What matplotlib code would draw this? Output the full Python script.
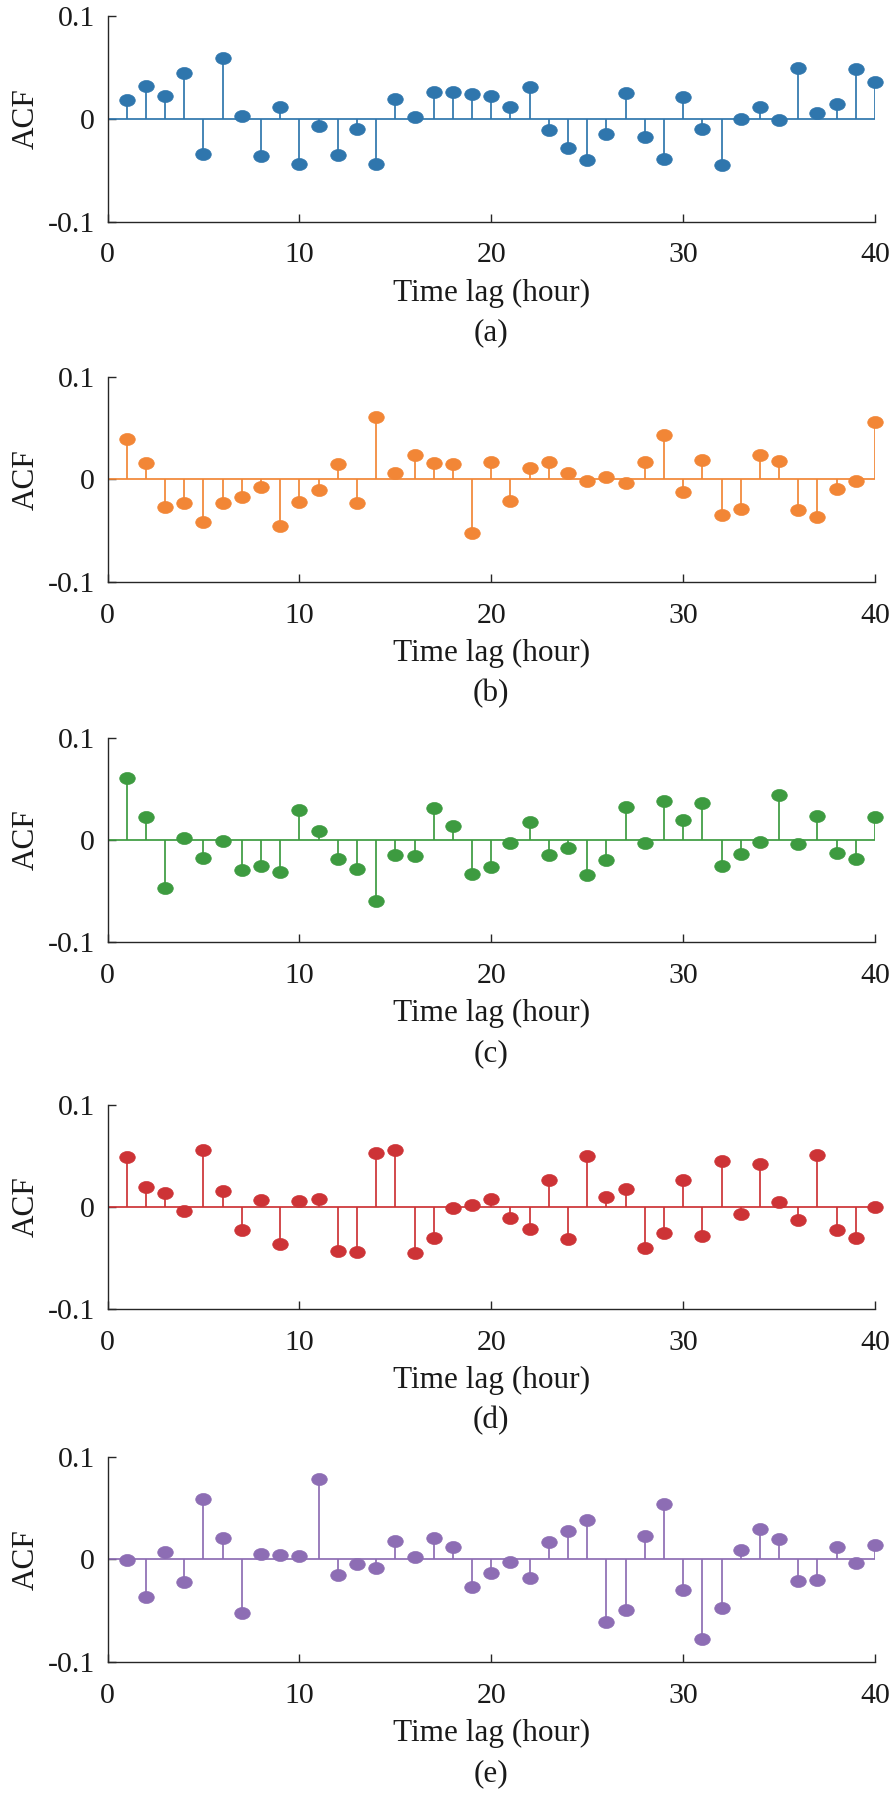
import matplotlib
matplotlib.use('Agg')
import matplotlib.pyplot as plt
import numpy as np
from matplotlib.path import Path

plt.rcParams['font.family'] = ['Liberation Serif', 'DejaVu Serif']

lags = list(range(1, 41))
acf_a = [0.018, 0.032, 0.022, 0.045, -0.034, 0.059, 0.003, -0.036, 0.011, -0.044,
         -0.007, -0.035, -0.010, -0.044, 0.019, 0.002, 0.026, 0.026, 0.024, 0.022,
         0.011, 0.031, -0.011, -0.028, -0.040, -0.015, 0.025, -0.018, -0.039, 0.021,
         -0.010, -0.045, 0.000, 0.011, -0.001, 0.049, 0.006, 0.014, 0.048, 0.036]
acf_b = [0.039, 0.016, -0.027, -0.023, -0.042, -0.023, -0.017, -0.007, -0.046, -0.022,
         -0.010, 0.015, -0.023, 0.061, 0.006, 0.024, 0.016, 0.015, -0.052, 0.017,
         -0.021, 0.011, 0.017, 0.006, -0.002, 0.002, -0.004, 0.017, 0.043, -0.012,
         0.019, -0.035, -0.029, 0.024, 0.018, -0.030, -0.037, -0.009, -0.002, 0.056]
acf_c = [0.061, 0.022, -0.047, 0.002, -0.018, -0.001, -0.029, -0.025, -0.031, 0.029,
         0.009, -0.019, -0.028, -0.060, -0.015, -0.016, 0.031, 0.014, -0.033, -0.026,
         -0.003, 0.018, -0.015, -0.008, -0.034, -0.020, 0.032, -0.003, 0.038, 0.020,
         0.036, -0.025, -0.014, -0.002, 0.044, -0.004, 0.023, -0.013, -0.019, 0.022]
acf_d = [0.049, 0.020, 0.014, -0.004, 0.056, 0.016, -0.023, 0.007, -0.036, 0.006,
         0.008, -0.043, -0.044, 0.053, 0.056, -0.045, -0.030, -0.001, 0.002, 0.008,
         -0.011, -0.022, 0.026, -0.031, 0.050, 0.010, 0.018, -0.040, -0.025, 0.026,
         -0.028, 0.045, -0.007, 0.042, 0.005, -0.013, 0.051, -0.023, -0.030, 0.000]
acf_e = [-0.001, -0.037, 0.007, -0.022, 0.059, 0.021, -0.052, 0.005, 0.004, 0.003,
         0.078, -0.015, -0.005, -0.008, 0.018, 0.002, 0.021, 0.012, -0.027, -0.013,
         -0.003, -0.018, 0.017, 0.028, 0.038, -0.061, -0.049, 0.023, 0.054, -0.030,
         -0.078, -0.047, 0.009, 0.030, 0.020, -0.021, -0.020, 0.012, -0.004, 0.014]

series = [acf_a, acf_b, acf_c, acf_d, acf_e]
captions = ['(a)', '(b)', '(c)', '(d)', '(e)']
colors = ['#2f76ad', '#f28636', '#3d9b40', '#cd3336', '#8d6db4']
xticks = [0, 10, 20, 30, 40]
yticks = [-0.1, 0, 0.1]
yticklabels = ['-0.1', '0', '0.1']

W, H = 892, 1793
fig = plt.figure(figsize=(W / 100, H / 100), dpi=100)

# axes pixel boxes (top, bottom)
boxes = [(16, 221.5), (377, 581.7), (737.7, 942.3), (1105, 1309), (1456.7, 1662)]
left_px, right_px = 107.5, 875

# elliptical marker
t = np.linspace(0, 2 * np.pi, 60)
verts = np.column_stack([np.cos(t), 0.77 * np.sin(t)])
codes = [Path.MOVETO] + [Path.LINETO] * (len(t) - 2) + [Path.CLOSEPOLY]
ell = Path(verts, codes)

for vals, cap, col, (top, bot) in zip(series, captions, colors, boxes):
    ax = fig.add_axes([left_px / W, 1 - bot / H, (right_px - left_px) / W, (bot - top) / H])
    ax.axhline(0, color=col, lw=1.25, zorder=2)
    ml, sl, bl = ax.stem(lags, vals, linefmt='-', markerfmt='o', basefmt=' ')
    plt.setp(sl, color=col, linewidth=1.25)
    plt.setp(ml, marker=ell, markersize=11.2, markerfacecolor=col,
             markeredgecolor=col, markeredgewidth=0.5, clip_on=False, zorder=3)
    ax.set_xlim(0, 40)
    ax.set_ylim(-0.1, 0.1)
    ax.set_xticks(xticks)
    ax.set_yticks(yticks)
    ax.set_yticklabels(yticklabels)
    for s in ['top', 'right']:
        ax.spines[s].set_visible(False)
    for s in ['left', 'bottom']:
        ax.spines[s].set_color('#262626')
        ax.spines[s].set_linewidth(1.0)
    ax.tick_params(direction='in', length=5.8, width=1.0, color='#262626',
                   labelsize=21.5, labelcolor='#1a1a1a')
    ax.tick_params(axis='x', pad=15)
    ax.tick_params(axis='y', pad=9)
    ax.set_ylabel('ACF', fontsize=22.5, color='#1a1a1a', labelpad=5)
    cx = (left_px + right_px) / 2 / W
    fig.text(cx, 1 - (bot + 71.5) / H, 'Time lag (hour)', ha='center', va='center',
             fontsize=22.5, color='#1a1a1a')
    fig.text(cx, 1 - (bot + 111.5) / H, cap, ha='center', va='center',
             fontsize=22.5, color='#1a1a1a')

fig.savefig('out.png', dpi=100)
